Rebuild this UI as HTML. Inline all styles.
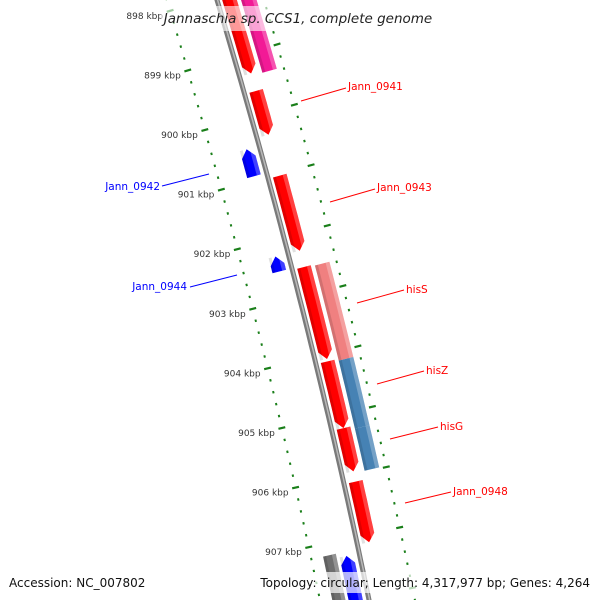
<!DOCTYPE html>
<html><head><meta charset="utf-8"><style>
html,body{margin:0;padding:0;background:#fff;width:600px;height:600px;overflow:hidden;}
svg{display:block;overflow:hidden;font-family:"DejaVu Sans","Liberation Sans",sans-serif;}
</style></head><body>
<svg id="map" width="600" height="600" viewBox="0 0 600 600">
<g id="ticks"></g>
<g id="backbone"></g>
<g id="features"></g>
<g id="labels"></g>
<rect x="161" y="6" width="276" height="25" fill="#fff" fill-opacity="0.6"/>
<text x="298" y="23" text-anchor="middle" font-size="13.5" font-style="italic" fill="#222">Jannaschia sp. CCS1, complete genome</text>
<rect x="258" y="572" width="336" height="21" fill="#fff" fill-opacity="0.7"/>
<text x="9" y="587" font-size="12" fill="#111">Accession: NC_007802</text>
<text x="590" y="587" text-anchor="end" font-size="12" fill="#111">Topology: circular; Length: 4,317,977 bp; Genes: 4,264</text>
</svg>
<script>
// ---- data (kbp) ----
const featStart = [897.5, 897.5, 899.62, 900.48, 901.03, 902.27, 902.55, 902.57, 904.15, 905.28, 904.12, 905.23, 906.12, 907.2, 907.27];
const featEnd   = [899.33, 899.37, 900.35, 900.93, 902.28, 902.52, 904.08, 904.15, 905.28, 905.98, 905.23, 905.95, 907.13, 908.6, 908.6];
const featLane  = [1, 2, 1, -1, 1, -1, 1, 2, 2, 2, 1, 1, 1, -2, -1];
const featType  = ["fwd","flat","fwd","rev","fwd","rev","fwd","flat","flat","flat","fwd","fwd","fwd","flat","rev"];
const featColor = ["#ff0000","#f21a96","#ff0000","#0000ff","#ff0000","#0000ff","#ff0000","#f08080","#4682b4","#4682b4","#ff0000","#ff0000","#ff0000","#6e6e6e","#0000ff"];
const featName  = ["jann-0940","trna-feature","jann-0941","jann-0942","jann-0943","jann-0944","gene-0945","hisS","hisZ","hisG","gene-his-a","gene-his-b","jann-0948","gene-grey","gene-blue-bottom"];
const tickKbp = [898, 899, 900, 901, 902, 903, 904, 905, 906, 907, 908];
const tickLabels = ["898 kbp","899 kbp","900 kbp","901 kbp","902 kbp","903 kbp","904 kbp","905 kbp","906 kbp","907 kbp","908 kbp"];
const labelText = ["Jann_0941","Jann_0943","hisS","hisZ","hisG","Jann_0948","Jann_0942","Jann_0944"];
const labelColor = ["#ff0000","#ff0000","#ff0000","#ff0000","#ff0000","#ff0000","#0000ff","#0000ff"];

// ---- geometry ----
const NS = "http://www.w3.org/2000/svg";
function sOf(kbp){ return 117 + 60*(kbp-900); }
function xb(s){ return 217 + 0.3*s - 7.78e-5*s*s; }
function P(kbp, r){
  const s = sOf(kbp);
  const dx = 0.3 - 1.556e-4*s; const L = Math.hypot(dx,1);
  const tx = dx/L, ty = 1/L;
  return [xb(s) + r*ty, s - r*tx];
}
const laneR = {1:[5,19], 2:[23,38], "-1":[-20,-6], "-2":[-36,-23]};
function mk(tag, attrs, parent){ const e=document.createElementNS(NS,tag); for(const k in attrs) e.setAttribute(k,attrs[k]); parent.appendChild(e); return e; }
function pts(arr){ return arr.map(p=>p[0].toFixed(1)+","+p[1].toFixed(1)).join(" "); }

// backbone
const bb = document.getElementById("backbone");
const bpts=[]; for(let k=897;k<=909;k+=0.2) bpts.push(P(k,0));
let e = mk("polyline",{points:pts(bpts),fill:"none",stroke:"#7a7a7a","stroke-width":5},bb);


e = mk("polyline",{points:pts(bpts.map(p=>[p[0]+0.6,p[1]])),fill:"none",stroke:"#b8b8b8","stroke-width":1.5},bb);



// tick rings
const tg = document.getElementById("ticks");
const ringR = [-48, 45];
for (const R of ringR){
  for (let k=897; k<=909.001; k+=0.2){
    const major = Math.abs(k-Math.round(k))<0.01;
    const a = P(k, R - (major?3.5:1)), b = P(k, R + (major?3.5:1));
    const t = mk("line",{x1:a[0],y1:a[1],x2:b[0],y2:b[1],stroke:"#1a7f1a","stroke-width":major?2.2:2.4},tg);
    
    
  }
}
tickKbp.forEach((k,i)=>{
  const p = P(k, -48);
  const t = mk("text",{x:(p[0]-7).toFixed(1),y:(p[1]+8).toFixed(1),"text-anchor":"end","font-size":"9","fill":"#333"},tg);
  t.textContent = tickLabels[i];
  
  
});

// features
const fg = document.getElementById("features");
function shape(k1,k2,r1,r2,type){
  const AH = 8/60, poly=[];
  let a=k1, b=k2;
  if(type==="fwd") b=Math.max(k1,k2-AH);
  if(type==="rev") a=Math.min(k2,k1+AH);
  const n=8;
  const left=[], right=[];
  for(let i=0;i<=n;i++){ const k=a+(b-a)*i/n; left.push(P(k,r1)); right.push(P(k,r2)); }
  if(type==="rev") poly.push(P(k1,(r1+r2)/2));
  poly.push(...left);
  if(type==="fwd") poly.push(P(k2,(r1+r2)/2));
  poly.push(...right.reverse());
  return poly;
}
featStart.forEach((st,i)=>{
  const lr = laneR[featLane[i]]; const r1=lr[0], r2=lr[1];
  const g = mk("g",{},fg);
  
  
  mk("polygon",{points:pts(shape(st,featEnd[i],r1,r2,featType[i])),fill:featColor[i]},g);
  mk("polygon",{points:pts(shape(st,featEnd[i],r1,r1+3,"flat")),fill:"#000","fill-opacity":0.12},g);
  mk("polygon",{points:pts(shape(st,featEnd[i],r2-4,r2,"flat")),fill:"#fff","fill-opacity":0.25},g);
});

// labels (leader lines)
const lg = document.getElementById("labels");
const lab = [
  [301,101,346,88,348,90,"start"],
  [330,202,375,189,377,191,"start"],
  [357,303,404,290,406,293,"start"],
  [377,384,424,371,426,374,"start"],
  [390,439,438,427,440,430,"start"],
  [405,503,451,492,453,495,"start"],
  [209,174,162,186,160,190,"end"],
  [237,275,190,287,187,290,"end"]
];
labelText.forEach((txt,i)=>{
  const L = lab[i];
  const ln = mk("line",{x1:L[0],y1:L[1],x2:L[2],y2:L[3],stroke:labelColor[i],"stroke-width":1},lg);
  
  
  const t = mk("text",{x:L[4],y:L[5],"text-anchor":L[6],"font-size":"10.5",fill:labelColor[i]},lg);
  t.textContent = txt;
  
  
});
</script>
</body></html>
